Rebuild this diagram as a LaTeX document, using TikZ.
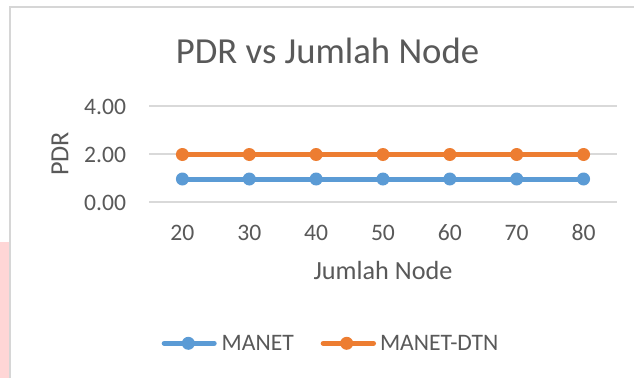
\documentclass[tikz,border=0pt]{standalone}
\usepackage{fontspec}
\setmainfont{Carlito}
\definecolor{axgray}{HTML}{595959}
\definecolor{gridgray}{HTML}{D9D9D9}
\definecolor{framegray}{HTML}{D6D6D6}
\definecolor{pinkbg}{HTML}{FFD6D6}
\definecolor{mblue}{HTML}{5B9BD5}
\definecolor{morange}{HTML}{ED7D31}
\begin{document}
\begin{tikzpicture}[x=1pt,y=-1pt,
  txt/.style={text=axgray,inner sep=0pt,outer sep=0pt},
  ticklab/.style={txt,font=\fontsize{23.6}{28}\selectfont},
  axlab/.style={txt,font=\fontsize{26.2}{30}\selectfont},
  titlab/.style={txt,font=\fontsize{36.7}{42}\selectfont},
  gridline/.style={draw=gridgray,line width=1.5pt},
  serB/.style={draw=mblue,line width=5pt,line cap=round,line join=round},
  serO/.style={draw=morange,line width=5pt,line cap=round,line join=round},
  dotB/.style={circle,fill=mblue,minimum size=13pt,inner sep=0pt,outer sep=0pt},
  dotO/.style={circle,fill=morange,minimum size=13pt,inner sep=0pt,outer sep=0pt}]
\useasboundingbox (0,0) rectangle (634,378);
\fill[white] (0,0) rectangle (634,378);
\fill[pinkbg] (0,242) rectangle (9,378);
% chart frame (cropped)
\coordinate (fb) at (10,378);
\coordinate (fc) at (10,7);
\coordinate (fr) at (634,7);
\draw[framegray,line width=2pt] (fb) -- (fc) -- (fr);
% title
\node[titlab,anchor=base] (title) at (327.5,63.3) {PDR vs Jumlah Node};
% gridlines
\coordinate (g4l) at (149,106); \coordinate (g4r) at (617,106);
\coordinate (g2l) at (149,154); \coordinate (g2r) at (617,154);
\coordinate (g0l) at (149,202); \coordinate (g0r) at (617,202);
\draw[gridline] (g4l) -- (g4r);
\draw[gridline] (g2l) -- (g2r);
\draw[gridline] (g0l) -- (g0r);
% y tick labels
\node[ticklab,anchor=base east] (t4) at (126,114.3) {4.00};
\node[ticklab,anchor=base east] (t2) at (126,162.0) {2.00};
\node[ticklab,anchor=base east] (t0) at (126,210.0) {0.00};
% y axis title
\node[axlab,rotate=90,anchor=base] (ytitle) at (68.3,154) {PDR};
% x tick labels
\foreach \i/\t in {0/20,1/30,2/40,3/50,4/60,5/70,6/80}
  \node[ticklab,anchor=base] (x\i) at ({182.4+66.86*\i},240.7) {\t};
% x axis title
\node[axlab,anchor=base] (xtitle) at (383,279.3) {Jumlah Node};
% series points
\foreach \i in {0,...,6} {
  \coordinate (cb\i) at ({182.4+66.86*\i},179);
  \coordinate (co\i) at ({182.4+66.86*\i},154.5);
}
\draw[serB] (cb0) -- (cb1) -- (cb2) -- (cb3) -- (cb4) -- (cb5) -- (cb6);
\draw[serO] (co0) -- (co1) -- (co2) -- (co3) -- (co4) -- (co5) -- (co6);
\foreach \i in {0,...,6} {
  \node[dotB] (mb\i) at (cb\i) {};
  \node[dotO] (mo\i) at (co\i) {};
}
% legend
\coordinate (lb1) at (164.2,343.3); \coordinate (lb2) at (214.2,343.3);
\coordinate (lo1) at (323.2,343.3); \coordinate (lo2) at (373.5,343.3);
\draw[serB] (lb1) -- (lb2);
\draw[serO] (lo1) -- (lo2);
\node[dotB] (lbm) at (188.3,343.3) {};
\node[dotO] (lom) at (346.7,343.3) {};
\node[ticklab,anchor=base west] (lt1) at (221.7,350.7) {MANET};
\node[ticklab,anchor=base west] (lt2) at (380,350.7) {MANET-DTN};
\end{tikzpicture}
\end{document}
